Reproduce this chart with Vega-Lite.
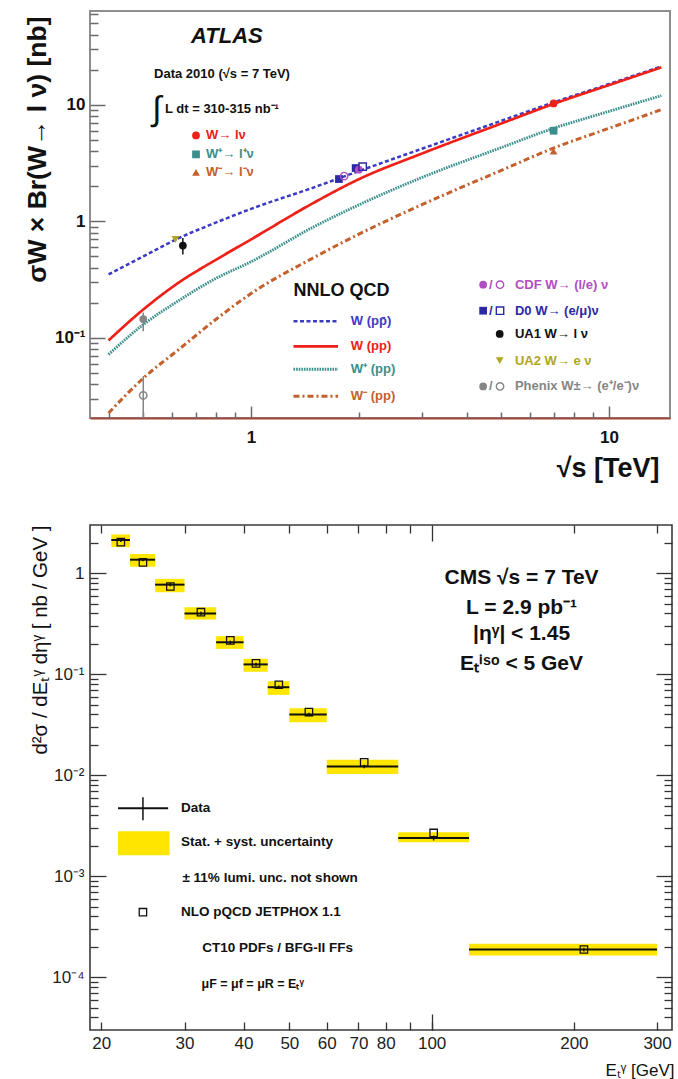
{
"$schema": "https://vega.github.io/schema/vega-lite/v6.json",
"padding": {"left": 23, "top": 10, "right": 0, "bottom": 0},
"spacing": 41,
"background": "white",
"config": {
  "font": "Liberation Sans",
  "axis": {"grid": false, "domain": false, "labelFont": "Liberation Sans", "titleFont": "Liberation Sans", "labelColor": "#111111", "titleColor": "#111111", "labelOverlap": false, "labelFlush": false}
},
"datasets": {
  "curves": [
    {"g":"ppbar","x":0.4,"y":0.35},{"g":"ppbar","x":0.5,"y":0.5},{"g":"ppbar","x":0.63,"y":0.72},{"g":"ppbar","x":0.8,"y":0.98},{"g":"ppbar","x":1,"y":1.28},{"g":"ppbar","x":1.5,"y":1.96},{"g":"ppbar","x":2,"y":2.7},{"g":"ppbar","x":3,"y":4.2},{"g":"ppbar","x":5,"y":7.3},{"g":"ppbar","x":7,"y":10.5},{"g":"ppbar","x":10,"y":15.1},{"g":"ppbar","x":14,"y":21.4},
    {"g":"W","x":0.4,"y":0.095},{"g":"W","x":0.5,"y":0.175},{"g":"W","x":0.63,"y":0.3},{"g":"W","x":0.8,"y":0.47},{"g":"W","x":1,"y":0.7},{"g":"W","x":1.5,"y":1.45},{"g":"W","x":2,"y":2.3},{"g":"W","x":3,"y":3.82},{"g":"W","x":5,"y":6.92},{"g":"W","x":7,"y":10.2},{"g":"W","x":10,"y":14.8},{"g":"W","x":14,"y":21},
    {"g":"Wp","x":0.4,"y":0.072},{"g":"Wp","x":0.5,"y":0.13},{"g":"Wp","x":0.63,"y":0.21},{"g":"Wp","x":0.8,"y":0.325},{"g":"Wp","x":1,"y":0.45},{"g":"Wp","x":1.5,"y":0.9},{"g":"Wp","x":2,"y":1.385},{"g":"Wp","x":3,"y":2.38},{"g":"Wp","x":5,"y":4.3},{"g":"Wp","x":7,"y":6.3},{"g":"Wp","x":10,"y":8.8},{"g":"Wp","x":14,"y":12},
    {"g":"Wm","x":0.4,"y":0.0226},{"g":"Wm","x":0.5,"y":0.045},{"g":"Wm","x":0.63,"y":0.08},{"g":"Wm","x":0.8,"y":0.145},{"g":"Wm","x":1,"y":0.24},{"g":"Wm","x":1.5,"y":0.49},{"g":"Wm","x":2,"y":0.776},{"g":"Wm","x":3,"y":1.39},{"g":"Wm","x":5,"y":2.74},{"g":"Wm","x":7,"y":4.26},{"g":"Wm","x":10,"y":6.3},{"g":"Wm","x":14,"y":9.1}
  ],
  "legendLines": [
    {"g":"ppbar","x":1.314,"x2":1.75,"y":0.1386},
    {"g":"W","x":1.314,"x2":1.75,"y":0.0845},
    {"g":"Wp","x":1.314,"x2":1.75,"y":0.0537},
    {"g":"Wm","x":1.314,"x2":1.75,"y":0.0315}
  ],
  "errs": [
    {"g":"ua1","x":0.645,"y":0.52,"y2":0.72},
    {"g":"ua2","x":0.615,"y":0.66,"y2":0.74},
    {"g":"phx","x":0.5,"y":0.114,"y2":0.165},
    {"g":"phx","x":0.5,"y":0.0206,"y2":0.047}
  ],
  "points": [
    {"g":"W","v":"f","x":7,"y":10.3},
    {"g":"Wp","v":"f","x":7,"y":6.0},
    {"g":"Wm","v":"f","x":7,"y":4.0},
    {"g":"d0","v":"f","x":1.76,"y":2.31},
    {"g":"cdf","v":"o","x":1.82,"y":2.45},
    {"g":"d0","v":"f","x":1.96,"y":2.87},
    {"g":"cdf","v":"f","x":2.0,"y":2.78},
    {"g":"d0","v":"o","x":2.05,"y":2.95},
    {"g":"ua1","v":"f","x":0.645,"y":0.62},
    {"g":"ua2","v":"f","x":0.615,"y":0.7},
    {"g":"phx","v":"f","x":0.5,"y":0.145},
    {"g":"phx","v":"o","x":0.5,"y":0.032},
    {"g":"W","v":"f","x":0.702,"y":5.47},
    {"g":"Wp","v":"f","x":0.702,"y":3.76},
    {"g":"Wm","v":"f","x":0.702,"y":2.63},
    {"g":"cdf","v":"f","x":4.45,"y":0.286},
    {"g":"cdf","v":"o","x":4.96,"y":0.286},
    {"g":"d0","v":"f","x":4.45,"y":0.171},
    {"g":"d0","v":"o","x":4.96,"y":0.171},
    {"g":"ua1","v":"f","x":4.95,"y":0.108},
    {"g":"ua2","v":"f","x":4.95,"y":0.0637},
    {"g":"phx","v":"f","x":4.45,"y":0.0383},
    {"g":"phx","v":"o","x":4.96,"y":0.0383}
  ],
  "notes": [
    {"k":"a","g":"k","x":0.68,"y":38.7,"t":"ATLAS"},
    {"k":"n","g":"k","x":0.536,"y":18.3,"t":"Data 2010 (√s = 7 TeV)"},
    {"k":"i","g":"k","x":0.546,"y":9.0,"t":"∫"},
    {"k":"n","g":"k","x":0.575,"y":9.15,"t":"L dt = 310-315 nb⁻¹"},
    {"k":"n","g":"W","x":0.749,"y":5.47,"t":"W→ lν"},
    {"k":"n","g":"Wp","x":0.749,"y":3.76,"t":"W⁺→ l⁺ν"},
    {"k":"n","g":"Wm","x":0.749,"y":2.63,"t":"W⁻→ l⁻ν"},
    {"k":"h","g":"k","x":1.314,"y":0.25,"t":"NNLO QCD"},
    {"k":"n","g":"ppbar","x":1.9,"y":0.1386,"t":"W (pp̄)"},
    {"k":"n","g":"W","x":1.9,"y":0.0845,"t":"W (pp)"},
    {"k":"n","g":"Wp","x":1.9,"y":0.0537,"t":"W⁺ (pp)"},
    {"k":"n","g":"Wm","x":1.9,"y":0.0315,"t":"W⁻ (pp)"},
    {"k":"n","g":"cdf","x":4.62,"y":0.286,"t":"/"},
    {"k":"n","g":"cdf","x":5.46,"y":0.286,"t":"CDF W→ (l/e) ν"},
    {"k":"n","g":"d0","x":4.62,"y":0.171,"t":"/"},
    {"k":"n","g":"d0","x":5.46,"y":0.171,"t":"D0 W→ (e/μ)ν"},
    {"k":"n","g":"ua1","x":5.46,"y":0.108,"t":"UA1 W→ l ν"},
    {"k":"n","g":"ua2","x":5.46,"y":0.0637,"t":"UA2 W→ e ν"},
    {"k":"n","g":"phx","x":4.62,"y":0.0383,"t":"/"},
    {"k":"n","g":"phx","x":5.46,"y":0.0383,"t":"Phenix W±→ (e⁺/e⁻)ν"}
  ],
  "bins": [
    {"lo":21,"hi":23,"x":22,"y":2.13,"nlo":2.03,"blo":1.81,"bhi":2.42,"elo":2.04,"ehi":2.22},
    {"lo":23,"hi":26,"x":24.5,"y":1.36,"nlo":1.28,"blo":1.16,"bhi":1.55,"elo":1.31,"ehi":1.41},
    {"lo":26,"hi":30,"x":28,"y":0.77,"nlo":0.738,"blo":0.648,"bhi":0.879,"elo":0.74,"ehi":0.8},
    {"lo":30,"hi":35,"x":32.5,"y":0.4,"nlo":0.411,"blo":0.348,"bhi":0.461,"elo":0.385,"ehi":0.415},
    {"lo":35,"hi":40,"x":37.5,"y":0.207,"nlo":0.216,"blo":0.178,"bhi":0.238,"elo":0.199,"ehi":0.215},
    {"lo":40,"hi":45,"x":42.5,"y":0.125,"nlo":0.128,"blo":0.106,"bhi":0.142,"elo":0.12,"ehi":0.13},
    {"lo":45,"hi":50,"x":47.5,"y":0.0743,"nlo":0.0786,"blo":0.0624,"bhi":0.0853,"elo":0.0713,"ehi":0.0773},
    {"lo":50,"hi":60,"x":55,"y":0.0399,"nlo":0.0422,"blo":0.0335,"bhi":0.046,"elo":0.0383,"ehi":0.0415},
    {"lo":60,"hi":85,"x":72,"y":0.0122,"nlo":0.0134,"blo":0.0103,"bhi":0.0142,"elo":0.0117,"ehi":0.0127},
    {"lo":85,"hi":120,"x":101,"y":0.00239,"nlo":0.00268,"blo":0.00217,"bhi":0.00273,"elo":0.00226,"ehi":0.00252},
    {"lo":120,"hi":300,"x":210,"y":0.000188,"nlo":0.000188,"blo":0.000164,"bhi":0.000214,"elo":0.00018,"ehi":0.000196}
  ],
  "legRect": [{"lo":21.7,"hi":27.9,"blo":0.00161,"bhi":0.00279}],
  "legH": [{"lo":21.7,"hi":27.7,"y":0.00471}],
  "legV": [{"x":24.5,"y":0.00358,"y2":0.00606}],
  "legSq": [{"x":24.5,"y":0.00044}],
  "cms": [
    {"k":"c","x":155,"y":0.892,"t":"CMS √s = 7 TeV"},
    {"k":"c","x":155,"y":0.45,"t":"L = 2.9 pb⁻¹"},
    {"k":"c","x":155,"y":0.2506,"t":"|ηᵞ| < 1.45"},
    {"k":"c","x":155,"y":0.1265,"t":"Eₜⁱˢᵒ < 5 GeV"},
    {"k":"l","x":29.5,"y":0.00471,"t":"Data"},
    {"k":"l","x":29.5,"y":0.00217,"t":"Stat. + syst. uncertainty"},
    {"k":"l","x":29.7,"y":0.000955,"t":"± 11% lumi. unc. not shown"},
    {"k":"l","x":29.5,"y":0.00044,"t":"NLO pQCD JETPHOX 1.1"},
    {"k":"l","x":32.7,"y":0.000195,"t":"CT10 PDFs / BFG-II FFs"},
    {"k":"m","x":32.6,"y":0.000086,"t":"μF = μf = μR = Eₜᵞ"}
  ]
},
"vconcat": [
{
  "width": 580, "height": 407,
  "view": {"stroke": "#8e8e8e", "strokeWidth": 2},
  "resolve": {"axis": {"x": "independent", "y": "independent"}},
  "layer": [
    {
      "data": {"name": "curves"},
      "mark": {"type": "line", "interpolate": "monotone"},
      "encoding": {
        "x": {"field": "x", "type": "quantitative", "scale": {"type": "log", "domain": [0.355, 14.8], "nice": false},
              "axis": {"orient": "bottom", "values": [1, 10], "labelExpr": "datum.value >= 5 ? '10' : '1'", "tickSize": -12, "tickColor": "#6a6a6a", "tickWidth": 1.5, "labelPadding": 23, "labelFontSize": 17, "labelFontWeight": "bold", "domain": true, "domainColor": "#a2473b", "domainWidth": 2, "title": "√s [TeV]", "titleFontSize": 27, "titleFontWeight": "bold", "titleX": 569, "titleY": 58, "titleAlign": "right", "titleBaseline": "alphabetic"}},
        "y": {"field": "y", "type": "quantitative", "scale": {"type": "log", "domain": [0.0205, 64], "nice": false},
              "axis": {"orient": "left", "values": [0.1, 1, 10], "labelExpr": "datum.value >= 5 ? '10' : datum.value >= 0.5 ? '1' : '10⁻¹'", "tickSize": -15, "tickColor": "#6a6a6a", "tickWidth": 1.5, "labelPadding": 20, "labelFontSize": 17, "labelFontWeight": "bold", "title": "σW × Br(W→ l ν) [nb]", "titleFontSize": 26.5, "titleFontWeight": "bold", "titleAngle": 270, "titleX": -45, "titleY": 5, "titleAlign": "right", "titleBaseline": "alphabetic"}},
        "color": {"field": "g", "type": "nominal", "scale": {"domain": ["ppbar","W","Wp","Wm","cdf","d0","ua1","ua2","phx","k"], "range": ["#3b3bc6","#ee2018","#3a8f8c","#c4602c","#b04fc2","#2a2aa6","#111111","#b2a620","#858585","#111111"]}, "legend": null},
        "strokeDash": {"field": "g", "type": "nominal", "scale": {"domain": ["ppbar","W","Wp","Wm"], "range": [[4,2.5],[1,0],[1.6,1],[6,3,2,3]]}, "legend": null},
        "strokeWidth": {"field": "g", "type": "ordinal", "scale": {"domain": ["ppbar","W","Wp","Wm"], "range": [2.5,3,2.5,2.5]}, "legend": null}
      }
    },
    {
      "data": {"name": "legendLines"},
      "mark": {"type": "rule"},
      "encoding": {
        "x": {"field": "x", "type": "quantitative", "scale": {"type": "log", "domain": [0.355, 14.8], "nice": false},
              "axis": {"orient": "bottom", "values": [0.4,0.5,0.6,0.7,0.8,0.9,2,3,4,5,6,7,8,9], "tickSize": -6, "tickColor": "#6a6a6a", "tickWidth": 1.5, "labels": false, "title": null}},
        "x2": {"field": "x2"},
        "y": {"field": "y", "type": "quantitative", "scale": {"type": "log", "domain": [0.0205, 64], "nice": false},
              "axis": {"orient": "left", "values": [0.03,0.04,0.05,0.06,0.07,0.08,0.09,0.2,0.3,0.4,0.5,0.6,0.7,0.8,0.9,2,3,4,5,6,7,8,9,20,30,40,50,60], "tickSize": -8, "tickColor": "#6a6a6a", "tickWidth": 1.5, "labels": false, "title": null}},
        "color": {"field": "g", "type": "nominal", "scale": {"domain": ["ppbar","W","Wp","Wm","cdf","d0","ua1","ua2","phx","k"], "range": ["#3b3bc6","#ee2018","#3a8f8c","#c4602c","#b04fc2","#2a2aa6","#111111","#b2a620","#858585","#111111"]}, "legend": null},
        "strokeDash": {"field": "g", "type": "nominal", "scale": {"domain": ["ppbar","W","Wp","Wm"], "range": [[4,2.5],[1,0],[1.6,1],[6,3,2,3]]}, "legend": null},
        "strokeWidth": {"field": "g", "type": "ordinal", "scale": {"domain": ["ppbar","W","Wp","Wm"], "range": [2.5,3,2.5,2.5]}, "legend": null}
      }
    },
    {
      "data": {"name": "errs"},
      "mark": {"type": "rule", "strokeWidth": 1.5},
      "encoding": {
        "x": {"field": "x", "type": "quantitative", "scale": {"type": "log", "domain": [0.355, 14.8], "nice": false}, "axis": null},
        "y": {"field": "y", "type": "quantitative", "scale": {"type": "log", "domain": [0.0205, 64], "nice": false}, "axis": null},
        "y2": {"field": "y2"},
        "color": {"field": "g", "type": "nominal", "scale": {"domain": ["ppbar","W","Wp","Wm","cdf","d0","ua1","ua2","phx","k"], "range": ["#3b3bc6","#ee2018","#3a8f8c","#c4602c","#b04fc2","#2a2aa6","#111111","#b2a620","#858585","#111111"]}, "legend": null}
      }
    },
    {
      "data": {"name": "points"},
      "transform": [{"filter": "datum.v == 'f'"}],
      "mark": {"type": "point", "filled": true, "size": 60, "opacity": 1},
      "encoding": {
        "x": {"field": "x", "type": "quantitative", "scale": {"type": "log", "domain": [0.355, 14.8], "nice": false}, "axis": null},
        "y": {"field": "y", "type": "quantitative", "scale": {"type": "log", "domain": [0.0205, 64], "nice": false}, "axis": null},
        "color": {"field": "g", "type": "nominal", "scale": {"domain": ["ppbar","W","Wp","Wm","cdf","d0","ua1","ua2","phx","k"], "range": ["#3b3bc6","#ee2018","#3a8f8c","#c4602c","#b04fc2","#2a2aa6","#111111","#b2a620","#858585","#111111"]}, "legend": null},
        "shape": {"field": "g", "type": "nominal", "scale": {"domain": ["W","Wp","Wm","cdf","d0","ua1","ua2","phx"], "range": ["circle","square","triangle-up","circle","square","circle","triangle-down","circle"]}, "legend": null}
      }
    },
    {
      "data": {"name": "points"},
      "transform": [{"filter": "datum.v == 'o'"}],
      "mark": {"type": "point", "filled": false, "size": 55, "strokeWidth": 1.4, "opacity": 1},
      "encoding": {
        "x": {"field": "x", "type": "quantitative", "scale": {"type": "log", "domain": [0.355, 14.8], "nice": false}, "axis": null},
        "y": {"field": "y", "type": "quantitative", "scale": {"type": "log", "domain": [0.0205, 64], "nice": false}, "axis": null},
        "color": {"field": "g", "type": "nominal", "scale": {"domain": ["ppbar","W","Wp","Wm","cdf","d0","ua1","ua2","phx","k"], "range": ["#3b3bc6","#ee2018","#3a8f8c","#c4602c","#b04fc2","#2a2aa6","#111111","#b2a620","#858585","#111111"]}, "legend": null},
        "shape": {"field": "g", "type": "nominal", "scale": {"domain": ["W","Wp","Wm","cdf","d0","ua1","ua2","phx"], "range": ["circle","square","triangle-up","circle","square","circle","triangle-down","circle"]}, "legend": null}
      }
    },
    {
      "data": {"name": "notes"},
      "transform": [{"filter": "datum.k == 'n'"}],
      "mark": {"type": "text", "align": "left", "baseline": "middle", "fontSize": 13, "fontWeight": "bold"},
      "encoding": {
        "x": {"field": "x", "type": "quantitative", "scale": {"type": "log", "domain": [0.355, 14.8], "nice": false}, "axis": null},
        "y": {"field": "y", "type": "quantitative", "scale": {"type": "log", "domain": [0.0205, 64], "nice": false}, "axis": null},
        "text": {"field": "t", "type": "nominal"},
        "color": {"field": "g", "type": "nominal", "scale": {"domain": ["ppbar","W","Wp","Wm","cdf","d0","ua1","ua2","phx","k"], "range": ["#3b3bc6","#ee2018","#3a8f8c","#c4602c","#b04fc2","#2a2aa6","#111111","#b2a620","#858585","#111111"]}, "legend": null}
      }
    },
    {
      "data": {"name": "notes"},
      "transform": [{"filter": "datum.k == 'h'"}],
      "mark": {"type": "text", "align": "left", "baseline": "middle", "fontSize": 18, "fontWeight": "bold", "color": "#111111"},
      "encoding": {
        "x": {"field": "x", "type": "quantitative", "scale": {"type": "log", "domain": [0.355, 14.8], "nice": false}, "axis": null},
        "y": {"field": "y", "type": "quantitative", "scale": {"type": "log", "domain": [0.0205, 64], "nice": false}, "axis": null},
        "text": {"field": "t", "type": "nominal"}
      }
    },
    {
      "data": {"name": "notes"},
      "transform": [{"filter": "datum.k == 'a'"}],
      "mark": {"type": "text", "align": "left", "baseline": "middle", "fontSize": 22, "fontWeight": "bold", "fontStyle": "italic", "color": "#111111"},
      "encoding": {
        "x": {"field": "x", "type": "quantitative", "scale": {"type": "log", "domain": [0.355, 14.8], "nice": false}, "axis": null},
        "y": {"field": "y", "type": "quantitative", "scale": {"type": "log", "domain": [0.0205, 64], "nice": false}, "axis": null},
        "text": {"field": "t", "type": "nominal"}
      }
    },
    {
      "data": {"name": "notes"},
      "transform": [{"filter": "datum.k == 'i'"}],
      "mark": {"type": "text", "align": "center", "baseline": "middle", "fontSize": 34, "color": "#111111"},
      "encoding": {
        "x": {"field": "x", "type": "quantitative", "scale": {"type": "log", "domain": [0.355, 14.8], "nice": false}, "axis": null},
        "y": {"field": "y", "type": "quantitative", "scale": {"type": "log", "domain": [0.0205, 64], "nice": false}, "axis": null},
        "text": {"field": "t", "type": "nominal"}
      }
    }
  ]
},
{
  "width": 582, "height": 505,
  "view": {"stroke": "#3a3a3a", "strokeWidth": 1.6},
  "resolve": {"axis": {"x": "independent", "y": "independent"}},
  "layer": [
    {
      "data": {"name": "bins"},
      "mark": {"type": "rect", "color": "#ffe600"},
      "encoding": {
        "x": {"field": "lo", "type": "quantitative", "scale": {"type": "log", "domain": [18.93, 322.6], "nice": false},
              "axis": {"orient": "bottom", "values": [20,30,40,50,60,70,80,90,100,200,300], "labelExpr": "datum.value == 90 ? '' : format(datum.value, 'd')", "tickSize": -8, "tickColor": "#333333", "tickWidth": 1.3, "labelPadding": 13.5, "labelFontSize": 17, "labelColor": "#222222", "title": "Eₜᵞ [GeV]", "titleFontSize": 17, "titleFontWeight": "normal", "titleX": 584, "titleY": 45, "titleAlign": "right", "titleBaseline": "alphabetic"}},
        "x2": {"field": "hi"},
        "y": {"field": "blo", "type": "quantitative", "scale": {"type": "log", "domain": [0.00003, 3], "nice": false},
              "axis": {"orient": "left", "values": [0.0001,0.001,0.01,0.1,1], "labelExpr": "datum.value >= 0.5 ? '1' : datum.value >= 0.05 ? '10⁻¹' : datum.value >= 0.005 ? '10⁻²' : datum.value >= 0.0005 ? '10⁻³' : '10⁻⁴'", "tickSize": -16, "tickColor": "#333333", "tickWidth": 1.3, "labelPadding": 22, "labelFontSize": 17, "labelColor": "#222222", "title": "d²σ / dEₜᵞ dηᵞ [ nb / GeV ]", "titleFontSize": 20.5, "titleFontWeight": "normal", "titleAngle": 270, "titleX": -44, "titleY": 0, "titleAlign": "right", "titleBaseline": "alphabetic"}},
        "y2": {"field": "bhi"}
      }
    },
    {
      "data": {"name": "bins"},
      "mark": {"type": "rule", "color": "#111111", "strokeWidth": 2},
      "encoding": {
        "x": {"field": "lo", "type": "quantitative", "scale": {"type": "log", "domain": [18.93, 322.6], "nice": false},
              "axis": {"orient": "bottom", "values": [100], "tickSize": -16, "tickColor": "#333333", "tickWidth": 1.3, "labels": false, "title": null}},
        "x2": {"field": "hi"},
        "y": {"field": "y", "type": "quantitative", "scale": {"type": "log", "domain": [0.00003, 3], "nice": false},
              "axis": {"orient": "left", "values": [0.00004,0.00005,0.00006,0.00007,0.00008,0.00009,0.0002,0.0003,0.0004,0.0005,0.0006,0.0007,0.0008,0.0009,0.002,0.003,0.004,0.005,0.006,0.007,0.008,0.009,0.02,0.03,0.04,0.05,0.06,0.07,0.08,0.09,0.2,0.3,0.4,0.5,0.6,0.7,0.8,0.9,2], "tickSize": -8, "tickColor": "#333333", "tickWidth": 1.3, "labels": false, "title": null}}
      }
    },
    {
      "data": {"name": "bins"},
      "mark": {"type": "rule", "color": "#111111", "strokeWidth": 1.5},
      "encoding": {
        "x": {"field": "x", "type": "quantitative", "scale": {"type": "log", "domain": [18.93, 322.6], "nice": false},
              "axis": {"orient": "top", "values": [20,30,40,50,60,70,80,90,200,300], "tickSize": -8, "tickColor": "#333333", "tickWidth": 1.3, "labels": false, "title": null}},
        "y": {"field": "elo", "type": "quantitative", "scale": {"type": "log", "domain": [0.00003, 3], "nice": false},
              "axis": {"orient": "right", "values": [0.0001,0.001,0.01,0.1,1], "tickSize": -16, "tickColor": "#333333", "tickWidth": 1.3, "labels": false, "title": null}},
        "y2": {"field": "ehi"}
      }
    },
    {
      "data": {"name": "bins"},
      "mark": {"type": "point", "shape": "square", "filled": false, "color": "#111111", "strokeWidth": 1.3, "size": 55, "opacity": 1},
      "encoding": {
        "x": {"field": "x", "type": "quantitative", "scale": {"type": "log", "domain": [18.93, 322.6], "nice": false},
              "axis": {"orient": "top", "values": [100], "tickSize": -16, "tickColor": "#333333", "tickWidth": 1.3, "labels": false, "title": null}},
        "y": {"field": "nlo", "type": "quantitative", "scale": {"type": "log", "domain": [0.00003, 3], "nice": false},
              "axis": {"orient": "right", "values": [0.00004,0.00005,0.00006,0.00007,0.00008,0.00009,0.0002,0.0003,0.0004,0.0005,0.0006,0.0007,0.0008,0.0009,0.002,0.003,0.004,0.005,0.006,0.007,0.008,0.009,0.02,0.03,0.04,0.05,0.06,0.07,0.08,0.09,0.2,0.3,0.4,0.5,0.6,0.7,0.8,0.9,2], "tickSize": -8, "tickColor": "#333333", "tickWidth": 1.3, "labels": false, "title": null}}
      }
    },
    {
      "data": {"name": "legRect"},
      "mark": {"type": "rect", "color": "#ffe600"},
      "encoding": {
        "x": {"field": "lo", "type": "quantitative", "scale": {"type": "log", "domain": [18.93, 322.6], "nice": false}, "axis": null},
        "x2": {"field": "hi"},
        "y": {"field": "blo", "type": "quantitative", "scale": {"type": "log", "domain": [0.00003, 3], "nice": false}, "axis": null},
        "y2": {"field": "bhi"}
      }
    },
    {
      "data": {"name": "legH"},
      "mark": {"type": "rule", "color": "#111111", "strokeWidth": 2},
      "encoding": {
        "x": {"field": "lo", "type": "quantitative", "scale": {"type": "log", "domain": [18.93, 322.6], "nice": false}, "axis": null},
        "x2": {"field": "hi"},
        "y": {"field": "y", "type": "quantitative", "scale": {"type": "log", "domain": [0.00003, 3], "nice": false}, "axis": null}
      }
    },
    {
      "data": {"name": "legV"},
      "mark": {"type": "rule", "color": "#111111", "strokeWidth": 1.5},
      "encoding": {
        "x": {"field": "x", "type": "quantitative", "scale": {"type": "log", "domain": [18.93, 322.6], "nice": false}, "axis": null},
        "y": {"field": "y", "type": "quantitative", "scale": {"type": "log", "domain": [0.00003, 3], "nice": false}, "axis": null},
        "y2": {"field": "y2"}
      }
    },
    {
      "data": {"name": "legSq"},
      "mark": {"type": "point", "shape": "square", "filled": false, "color": "#111111", "strokeWidth": 1.3, "size": 55, "opacity": 1},
      "encoding": {
        "x": {"field": "x", "type": "quantitative", "scale": {"type": "log", "domain": [18.93, 322.6], "nice": false}, "axis": null},
        "y": {"field": "y", "type": "quantitative", "scale": {"type": "log", "domain": [0.00003, 3], "nice": false}, "axis": null}
      }
    },
    {
      "data": {"name": "cms"},
      "transform": [{"filter": "datum.k == 'c'"}],
      "mark": {"type": "text", "align": "center", "baseline": "middle", "fontSize": 21, "fontWeight": "bold", "color": "#111111"},
      "encoding": {
        "x": {"field": "x", "type": "quantitative", "scale": {"type": "log", "domain": [18.93, 322.6], "nice": false}, "axis": null},
        "y": {"field": "y", "type": "quantitative", "scale": {"type": "log", "domain": [0.00003, 3], "nice": false}, "axis": null},
        "text": {"field": "t", "type": "nominal"}
      }
    },
    {
      "data": {"name": "cms"},
      "transform": [{"filter": "datum.k == 'l'"}],
      "mark": {"type": "text", "align": "left", "baseline": "middle", "fontSize": 13.5, "fontWeight": "bold", "color": "#111111"},
      "encoding": {
        "x": {"field": "x", "type": "quantitative", "scale": {"type": "log", "domain": [18.93, 322.6], "nice": false}, "axis": null},
        "y": {"field": "y", "type": "quantitative", "scale": {"type": "log", "domain": [0.00003, 3], "nice": false}, "axis": null},
        "text": {"field": "t", "type": "nominal"}
      }
    },
    {
      "data": {"name": "cms"},
      "transform": [{"filter": "datum.k == 'm'"}],
      "mark": {"type": "text", "align": "left", "baseline": "middle", "fontSize": 12.5, "fontWeight": "bold", "color": "#111111"},
      "encoding": {
        "x": {"field": "x", "type": "quantitative", "scale": {"type": "log", "domain": [18.93, 322.6], "nice": false}, "axis": null},
        "y": {"field": "y", "type": "quantitative", "scale": {"type": "log", "domain": [0.00003, 3], "nice": false}, "axis": null},
        "text": {"field": "t", "type": "nominal"}
      }
    }
  ]
}
]
}
